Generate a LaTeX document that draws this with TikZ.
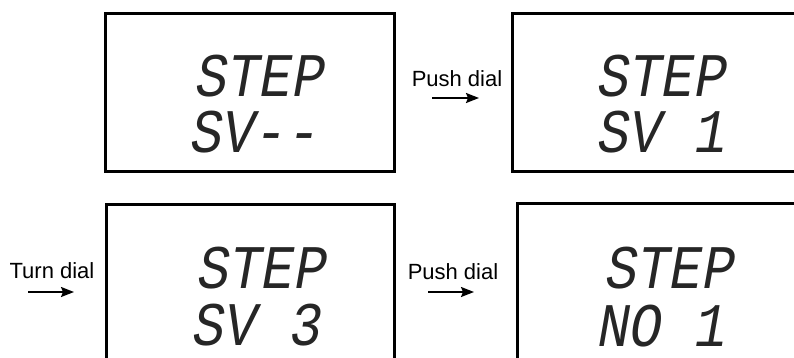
\documentclass[tikz,border=0pt]{standalone}
\usepackage{fontspec}
\setmainfont{Liberation Sans}
\newfontfamily\lcdfont[FakeSlant=0.2]{Liberation Mono}
\usetikzlibrary{arrows.meta}
\tikzset{
  lcdbox/.style={draw=black, line width=3pt, anchor=north west, inner sep=0pt},
  lcdtext/.style={anchor=base west, inner sep=0pt, text=black!85,
    text height=42pt, text depth=0pt,
    font=\lcdfont\fontsize{62}{62}\selectfont},
  lbl/.style={anchor=base, inner sep=0pt, font=\fontsize{22}{22}\selectfont},
  flow/.style={line width=1.8pt, -{Stealth[length=13pt,width=10pt,inset=2pt]}}
}
\newcommand{\lcd}[1]{\scalebox{0.87}[1]{#1}}
\begin{document}
\begin{tikzpicture}[x=1pt,y=-1pt]
\useasboundingbox (0,0) rectangle (794,358);
\clip (0,0) rectangle (794,358);
% boxes
\node[lcdbox, minimum width=289pt, minimum height=158pt] (b1) at (104,12) {};
\node[lcdbox, minimum width=320pt, minimum height=158pt] (b2) at (511,12) {};
\node[lcdbox, minimum width=288pt, minimum height=220pt] (b3) at (105,203) {};
\node[lcdbox, minimum width=320pt, minimum height=220pt] (b4) at (516,202) {};
% display texts
\node[lcdtext] (t1a) at (193,97) {\lcd{STEP}};
\node[lcdtext] (t1b) at (188,153) {\lcd{SV--}};
\node[lcdtext] (t2a) at (595,97) {\lcd{STEP}};
\node[lcdtext] (t2b) at (595,153) {\lcd{SV 1}};
\node[lcdtext] (t3a) at (195,288) {\lcd{STEP}};
\node[lcdtext] (t3b) at (190,345) {\lcd{SV 3}};
\node[lcdtext] (t4a) at (603,288) {\lcd{STEP}};
\node[lcdtext] (t4b) at (595,346) {\lcd{NO 1}};
% labels
\node[lbl] (l1) at (457,87) {Push dial};
\node[lbl] (l2) at (52,278) {Turn dial};
\node[lbl] (l3) at (453,279) {Push dial};
% arrows
\coordinate (a1s) at (432,98); \coordinate (a1e) at (479,98);
\coordinate (a2s) at (28,292); \coordinate (a2e) at (74,292);
\coordinate (a3s) at (428,292); \coordinate (a3e) at (474,292);
\draw[flow] (a1s) -- (a1e);
\draw[flow] (a2s) -- (a2e);
\draw[flow] (a3s) -- (a3e);
\end{tikzpicture}
\end{document}
